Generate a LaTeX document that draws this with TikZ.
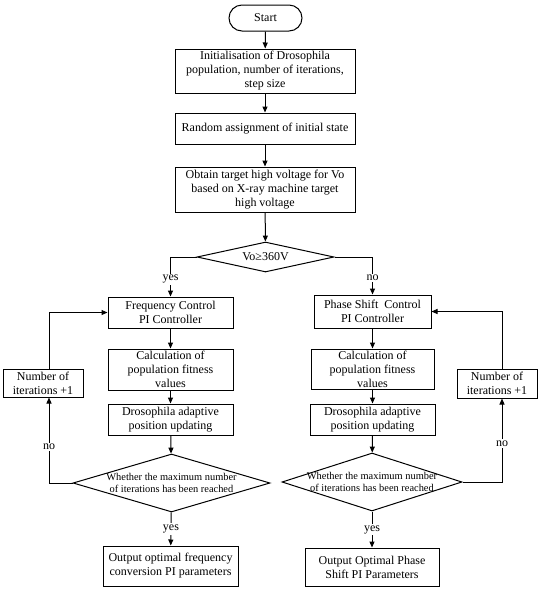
\documentclass[tikz,border=0pt]{standalone}
\usepackage{fontspec}
\setmainfont{Liberation Serif}
\usetikzlibrary{arrows.meta,shapes.geometric}
\begin{document}
\begin{tikzpicture}[x=1pt,y=-1pt,
  box/.style={draw,line width=1pt,align=center,inner sep=0pt,font=\fontsize{12}{14}\selectfont},
  dec/.style={draw,line width=1pt,shape=diamond,align=center,inner sep=0pt,aspect=3.4},
  dtext/.style={align=center,inner sep=0pt,font=\fontsize{10.4}{12.5}\selectfont},
  arr/.style={line width=1pt,-{Triangle[length=6pt,width=5pt]}},
  lbl/.style={fill=white,inner sep=1.5pt,font=\fontsize{12}{14}\selectfont}]
\path[use as bounding box] (0,0) rectangle (550,590);
\node[box,rounded corners=13pt,minimum width=73pt,minimum height=26pt] (start) at (265.5,18) {Start};
\node[box,minimum width=180pt,minimum height=44pt] (init) at (265,71) {Initialisation of Drosophila\\population, number of iterations,\\step size};
\node[box,minimum width=180pt,minimum height=31pt] (rand) at (265,128.5) {Random assignment of initial state};
\node[box,minimum width=180pt,minimum height=45pt] (obt) at (265,189.5) {Obtain target high voltage for Vo\\based on X-ray machine target\\high voltage};
\node[dec,minimum width=137pt,minimum height=30pt,font=\fontsize{12}{14}\selectfont] (vo) at (265.5,257) {Vo≥360V};
% left column
\node[box,minimum width=125pt,minimum height=31pt] (freq) at (170.5,312.5) {Frequency Control\\PI Controller};
\node[box,minimum width=125pt,minimum height=41pt] (calcL) at (170.5,369.5) {Calculation of\\population fitness\\values};
\node[box,minimum width=125pt,minimum height=31pt] (drosL) at (170.5,419.5) {Drosophila adaptive\\position updating};
\node[dec,minimum width=197pt,minimum height=58pt,label={[dtext]center:Whether the maximum number\\of iterations has been reached}] (maxL) at (171.5,483) {};
\node[box,minimum width=135pt,minimum height=40pt] (outL) at (170.5,566) {Output optimal frequency\\conversion PI parameters};
\node[box,minimum width=80pt,minimum height=28pt] (numL) at (43,383) {Number of\\iterations +1};
% right column
\node[box,minimum width=117pt,minimum height=33pt] (phase) at (372.5,311.5) {Phase Shift~ Control\\PI Controller};
\node[box,minimum width=123pt,minimum height=40pt] (calcR) at (372.5,369) {Calculation of\\population fitness\\values};
\node[box,minimum width=125pt,minimum height=31pt] (drosR) at (372.5,419.5) {Drosophila adaptive\\position updating};
\node[dec,minimum width=180pt,minimum height=58pt,label={[dtext]center:Whether the maximum number\\of iterations has been reached}] (maxR) at (372,482) {};
\node[box,minimum width=134pt,minimum height=38pt] (outR) at (372,567) {Output Optimal Phase\\Shift PI Parameters};
\node[box,minimum width=80pt,minimum height=29pt] (numR) at (497,383.5) {Number of\\iterations +1};
% connectors
\draw[arr] (start) -- (init);
\draw[arr] (init) -- (rand);
\draw[arr] (rand) -- (obt);
\draw[arr] (obt) -- (vo);
\draw[arr] (vo.west) -| node[lbl,pos=0.78] {yes} (freq.north);
\draw[arr] (vo.east) -| node[lbl,pos=0.78] {no} (phase.north);
\draw[arr] (freq) -- (calcL);
\draw[arr] (calcL) -- (drosL);
\draw[arr] (drosL) -- (maxL);
\draw[arr] (maxL) -- node[lbl] {yes} (outL);
\draw[arr] (maxL.west) -| node[lbl,pos=0.71] {no} ([xshift=6pt]numL.south);
\draw[arr] ([xshift=6pt]numL.north) |- (freq.west);
\draw[arr] (phase) -- (calcR);
\draw[arr] (calcR) -- (drosR);
\draw[arr] (drosR) -- (maxR);
\draw[arr] (maxR) -- node[lbl] {yes} (outR);
\draw[arr] (maxR.east) -| node[lbl,pos=0.73] {no} ([xshift=5pt]numR.south);
\draw[arr] ([xshift=5pt]numR.north) |- (phase.east);
\end{tikzpicture}
\end{document}
